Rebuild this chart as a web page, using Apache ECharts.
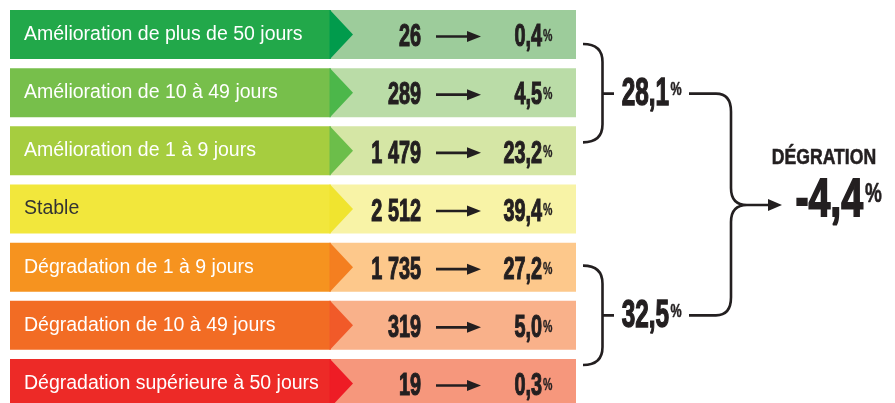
<!DOCTYPE html>
<html>
<head>
<meta charset="utf-8">
<script src="https://cdn.jsdelivr.net/npm/echarts@6/dist/echarts.min.js"></script>
<style>html,body{margin:0;padding:0;background:#fff}#c{width:895px;height:403px}</style>
</head>
<body>
<div id="c"></div>
<script>
// ---- data ----
const categories = [
  'Amélioration de plus de 50 jours',
  'Amélioration de 10 à 49 jours',
  'Amélioration de 1 à 9 jours',
  'Stable',
  'Dégradation de 1 à 9 jours',
  'Dégradation de 10 à 49 jours',
  'Dégradation supérieure à 50 jours'
];
const counts = [26, 289, 1479, 2512, 1735, 319, 19];
const shares = [0.4, 4.5, 23.2, 39.4, 27.2, 5.0, 0.3];
const groupShares = [28.1, 32.5];          // amélioration, dégradation
const netTitle = 'DÉGRATION';
const netChange = -4.4;

// ---- styles ----
const mainColors  = ['#22a84a', '#77bf4b', '#a6cd3f', '#f2e73c', '#f6931f', '#f26c24', '#ed2a27'];
const triColors   = ['#019b4c', '#4cb74a', '#6cbe4a', '#f0e42f', '#f47f20', '#f15a29', '#ee1c25'];
const lightColors = ['#9dcc9b', '#badca7', '#d5e6a5', '#f8f3a6', '#fdc88b', '#f9b18a', '#f6977c'];
const labelColors = ['#fff', '#fff', '#fff', '#333', '#fff', '#fff', '#fff'];
const INK = '#231f20';
const NUMFONT = '"Liberation Sans", Arial, sans-serif';

const fmtCount = n => String(n).replace(/\B(?=(\d{3})+(?!\d))/g, ' ');
const fmtPct = v => v.toFixed(1).replace('.', ',');

function text(x, y, s, font, fill, align, vAlign, sx, heavy) {
  const st = {text: s, font: font, fill: fill, align: align, textAlign: align,
              verticalAlign: vAlign, textVerticalAlign: vAlign};
  if (heavy) { st.stroke = fill; st.lineWidth = heavy; }
  return {type: 'text', x: x, y: y, scaleX: sx || 1, style: st};
}

function renderRow(params, api) {
  const idx = api.value(0);
  const px = v => api.coord([v, idx])[0];
  const yc = api.coord([0, idx])[1];
  const h = api.size([0, 1])[1] * 0.842;
  const top = yc - h / 2, bot = yc + h / 2;
  const x0 = px(10), xs = px(330), xt = px(353), x1 = px(576);
  const ch = [];
  ch.push({type: 'rect', shape: {x: x0, y: top, width: xs - x0, height: h}, style: {fill: mainColors[idx]}});
  ch.push({type: 'rect', shape: {x: xs, y: top, width: x1 - xs, height: h}, style: {fill: lightColors[idx]}});
  ch.push({type: 'polygon', shape: {points: [[xs, top], [xt, yc], [xs, bot]]}, style: {fill: triColors[idx]}});
  ch.push({type: 'rect', shape: {x: xs - 0.5, y: top, width: 1.2, height: h}, style: {fill: triColors[idx]}});
  ch.push(text(px(24), yc, categories[idx], 'normal 19.5px "Liberation Sans", Arial, sans-serif',
               labelColors[idx], 'left', 'middle'));
  ch.push(text(px(421), yc + 3, fmtCount(api.value(1)), 'bold 32px ' + NUMFONT, INK, 'right', 'middle', 0.62, 1.2));
  // arrow
  const ay = yc + 2;
  ch.push({type: 'line', shape: {x1: px(436), y1: ay, x2: px(470), y2: ay}, style: {stroke: INK, lineWidth: 2.6}});
  ch.push({type: 'polygon', shape: {points: [[px(467), ay - 5.5], [px(481), ay], [px(467), ay + 5.5]]}, style: {fill: INK}});
  ch.push(text(px(542), yc + 3, fmtPct(api.value(2)), 'bold 32px ' + NUMFONT, INK, 'right', 'middle', 0.62, 1.2));
  ch.push(text(px(543), yc - 6, '%', 'bold 16px ' + NUMFONT, INK, 'left', 'top', 0.66, 0.4));
  return {type: 'group', children: ch};
}

function renderSummary(params, api) {
  const px = v => api.coord([v, 0])[0];
  const yc = r => api.coord([0, r])[1];
  const ch = [];
  const L = {stroke: INK, lineWidth: 2.6, fill: null};
  function brace(t, b, m) {
    const xa = px(583), xv = px(602.5), xk = px(614);
    ch.push({type: 'path', shape: {pathData:
      `M${xa},${t} Q${xv},${t} ${xv},${t + 18} L${xv},${b - 18} Q${xv},${b} ${xa},${b} M${xv},${m} L${xk},${m}`},
      style: L});
  }
  // groups: rows 0-2 and rows 4-6
  const t1 = yc(0) + 9.5, b1 = yc(2) - 8.5, m1 = yc(1) + 1;
  const t2 = yc(4) - 1.5, b2 = yc(6) - 18.5, m2 = yc(5) - 10;
  brace(t1, b1, m1);
  brace(t2, b2, m2);
  const gf = 'bold 38px ' + NUMFONT;
  [[m1, groupShares[0]], [m2, groupShares[1]]].forEach(([m, v]) => {
    ch.push(text(px(669), m + 1, fmtPct(v), gf, INK, 'right', 'middle', 0.64, 1.4));
    ch.push(text(px(670.5), m - 13.5, '%', 'bold 19px ' + NUMFONT, INK, 'left', 'top', 0.66, 0.5));
  });
  // connector
  const xh = px(689), xv = px(731), xj = px(747);
  const jy = (m1 + m2) / 2 + 0.5;
  ch.push({type: 'path', shape: {pathData:
    `M${xh},${m1} L${xv - 15},${m1} Q${xv},${m1} ${xv},${m1 + 18} L${xv},${jy - 17} Q${xv},${jy} ${xj},${jy} L${px(771)},${jy}` +
    ` M${xh},${m2} L${xv - 15},${m2} Q${xv},${m2} ${xv},${m2 - 18} L${xv},${jy + 17} Q${xv},${jy} ${xj},${jy}`},
    style: L});
  ch.push({type: 'polygon', shape: {points: [[px(768), jy - 6], [px(782), jy], [px(768), jy + 6]]}, style: {fill: INK}});
  // net result
  ch.push(text(px(824), jy - 47, netTitle, 'bold 22px ' + NUMFONT, INK, 'center', 'middle', 0.8, 0.6));
  ch.push(text(px(863), jy - 4, fmtPct(netChange), 'bold 53px ' + NUMFONT, INK, 'right', 'middle', 0.74, 1.8));
  ch.push(text(px(865), jy - 24, '%', 'bold 27px ' + NUMFONT, INK, 'left', 'top', 0.7, 0.6));
  return {type: 'group', children: ch};
}

const chart = echarts.init(document.getElementById('c'), null, {renderer: 'canvas'});
chart.setOption({
  animation: false,
  grid: {left: 0, top: 5.4, width: 895, height: 407.2, containLabel: false, outerBoundsMode: 'none'},
  xAxis: {type: 'value', min: 0, max: 895, show: false},
  yAxis: {type: 'category', data: categories, inverse: true, show: false},
  series: [
    {type: 'custom', silent: true, clip: false, renderItem: renderRow,
     data: categories.map((c, i) => [i, counts[i], shares[i]])},
    {type: 'custom', silent: true, clip: false, renderItem: renderSummary, data: [[0]]}
  ]
});
</script>
</body>
</html>
